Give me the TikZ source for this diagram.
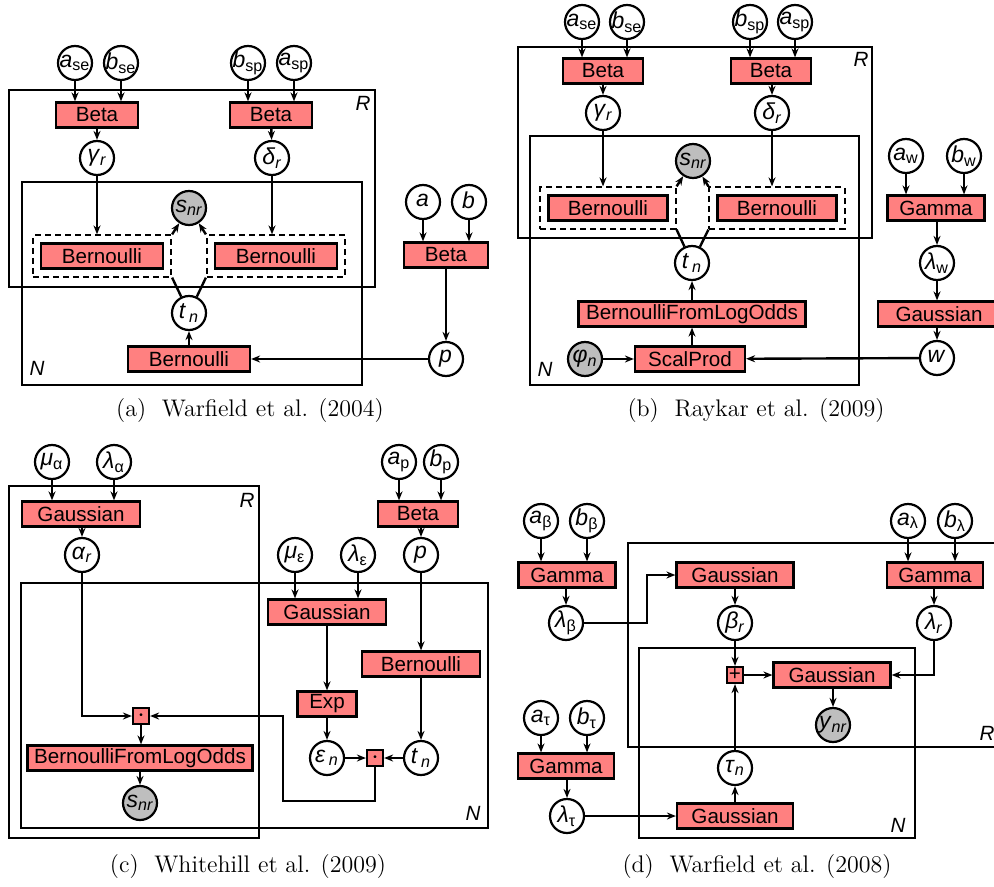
\documentclass[tikz,border=0pt]{standalone}
\usepackage{fontspec}
\usetikzlibrary{arrows.meta,fit}
\newfontfamily\sans{Liberation Sans}
\definecolor{facred}{HTML}{FF8080}
\definecolor{obsgrey}{HTML}{BEBEBE}
% variable with an upright subscript, kept narrow so the circle stays small
\newcommand{\vr}[2]{\makebox[0pt][c]{\fontsize{11.5}{12}\selectfont\textit{#1}\textsubscript{#2}}}

\begin{document}
\begin{tikzpicture}[x=0.5pt, y=-0.5pt,
  every node/.style={font=\sans\fontsize{10.3}{12}\selectfont},
  var/.style={circle, draw, line width=1.1pt, minimum size=17pt, inner sep=0pt, fill=white},
  obs/.style={var, fill=obsgrey},
  fac/.style={draw, line width=1.1pt, fill=facred, minimum height=12.5pt, inner sep=0pt},
  prod/.style={fac, minimum width=8pt, minimum height=8pt},
  gate/.style={draw, dash pattern=on 3pt off 2pt, line width=1pt, inner sep=3.5pt},
  plate/.style={line width=0.8pt},
  arr/.style={-{Stealth[length=4.5pt,width=3.5pt]}, line width=1.2pt},
  link/.style={line width=1.2pt},
  caption/.style={font=\fontsize{12}{14}\selectfont}]
\useasboundingbox (0,0) rectangle (994,887);

% ---------------- (a) ----------------
\draw[plate] (9,90) rectangle (375,287);
\draw[plate] (22,182) rectangle (362,385);
\node (a-R) at (363,103) {\textit{R}};
\node (a-N) at (37,368) {\textit{N}};

\node[var] (a-ase) at (75,63) {\vr{a}{se}};
\node[var] (a-bse) at (121,63) {\vr{b}{se}};
\node[var] (a-bsp) at (248,63) {\vr{b}{sp}};
\node[var] (a-asp) at (294,63) {\vr{a}{sp}};
\node[fac, minimum width=41pt] (a-beta1) at (97,115) {Beta};
\node[fac, minimum width=41pt] (a-beta2) at (271,115) {Beta};
\node[var] (a-gam) at (97,158) {\vr{γ}{\itshape r}};
\node[var] (a-del) at (272,158) {\vr{δ}{\itshape r}};
\node[obs] (a-snr) at (189,208) {\vr{s}{\itshape nr}};
\node[fac, minimum width=61pt] (a-bern1) at (102,256) {Bernoulli};
\node[fac, minimum width=61pt] (a-bern2) at (276,256) {Bernoulli};
\node[gate, fit=(a-bern1)] (a-gate1) {};
\node[gate, fit=(a-bern2)] (a-gate2) {};
\node[var] (a-tn) at (189,313) {\vr{t\,}{\itshape n}};
\node[fac, minimum width=61pt] (a-bern3) at (189,359) {Bernoulli};
\node[var] (a-a) at (423,202) {\vr{a}{}};
\node[var] (a-b) at (469,202) {\vr{b}{}};
\node[fac, minimum width=42pt] (a-beta3) at (446,255) {Beta};
\node[var] (a-p) at (446,359) {\vr{p}{}};

\draw[arr] (a-ase) -- (a-beta1.north -| a-ase);
\draw[arr] (a-bse) -- (a-beta1.north -| a-bse);
\draw[arr] (a-bsp) -- (a-beta2.north -| a-bsp);
\draw[arr] (a-asp) -- (a-beta2.north -| a-asp);
\draw[arr] (a-beta1) -- (a-gam);
\draw[arr] (a-beta2) -- (a-del);
\draw[arr] (a-gam) -- (a-gate1.north -| a-gam);
\draw[arr] (a-del) -- (a-gate2.north -| a-del);
\draw[arr] (a-gate1.north east) -- (a-snr);
\draw[arr] (a-gate2.north west) -- (a-snr);
\draw[link] (a-tn) -- (a-gate1.south east);
\draw[link] (a-tn) -- (a-gate2.south west);
\draw[arr] (a-bern3) -- (a-tn);
\draw[arr] (a-a) -- (a-beta3.north -| a-a);
\draw[arr] (a-b) -- (a-beta3.north -| a-b);
\draw[arr] (a-beta3) -- (a-p);
\draw[arr] (a-p) -- (a-bern3);

\node[caption] (cap-a) at (250,411) {(a)~~Warfield et al. (2004)};

% ---------------- (b) ----------------
\draw[plate] (518,47) rectangle (872,238);
\draw[plate] (530,136) rectangle (859,385);
\node (b-R) at (861,59) {\textit{R}};
\node (b-N) at (545,369) {\textit{N}};

\node[var] (b-ase) at (582,22) {\vr{a}{se}};
\node[var] (b-bse) at (627,22) {\vr{b}{se}};
\node[var] (b-bsp) at (750,22) {\vr{b}{sp}};
\node[var] (b-asp) at (795,22) {\vr{a}{sp}};
\node[fac, minimum width=40pt] (b-beta1) at (603,71) {Beta};
\node[fac, minimum width=40pt] (b-beta2) at (771,71) {Beta};
\node[var] (b-gam) at (603,113) {\vr{γ}{\itshape r}};
\node[var] (b-del) at (772,113) {\vr{δ}{\itshape r}};
\node[obs] (b-snr) at (693,161) {\vr{s}{\itshape nr}};
\node[fac, minimum width=59.5pt] (b-bern1) at (608,208) {Bernoulli};
\node[fac, minimum width=59.5pt] (b-bern2) at (777,208) {Bernoulli};
\node[gate, fit=(b-bern1)] (b-gate1) {};
\node[gate, fit=(b-bern2)] (b-gate2) {};
\node[var] (b-tn) at (692,263) {\vr{t\,}{\itshape n}};
\node[fac, minimum width=113.5pt] (b-bflo) at (692,314) {BernoulliFromLogOdds};
\node[fac, minimum width=55pt] (b-scal) at (690,359) {ScalProd};
\node[obs] (b-phi) at (585,359) {\vr{φ}{\itshape n}};
\node[var] (b-aw) at (906,156) {\vr{a}{w}};
\node[var] (b-bw) at (964,156) {\vr{b}{w}};
\node[fac, minimum width=48.5pt] (b-gamma) at (936,208) {Gamma};
\node[var] (b-lw) at (937,263) {\vr{λ}{w}};
\node[fac, minimum width=61pt] (b-gauss) at (939,314) {Gaussian};
\node[var] (b-w) at (937,358) {\vr{w}{}};

\draw[arr] (b-ase) -- (b-beta1.north -| b-ase);
\draw[arr] (b-bse) -- (b-beta1.north -| b-bse);
\draw[arr] (b-bsp) -- (b-beta2.north -| b-bsp);
\draw[arr] (b-asp) -- (b-beta2.north -| b-asp);
\draw[arr] (b-beta1) -- (b-gam);
\draw[arr] (b-beta2.south -| b-del) -- (b-del);
\draw[arr] (b-gam) -- (b-gate1.north -| b-gam);
\draw[arr] (b-del) -- (b-gate2.north -| b-del);
\draw[arr] (b-gate1.north east) -- (b-snr);
\draw[arr] (b-gate2.north west) -- (b-snr);
\draw[link] (b-tn) -- (b-gate1.south east);
\draw[link] (b-tn) -- (b-gate2.south west);
\draw[arr] (b-bflo) -- (b-tn);
\draw[arr] (b-scal.north -| b-bflo) -- (b-bflo);
\draw[arr] (b-phi) -- (b-scal);
\draw[arr] (b-w) -- (b-scal);
\draw[arr] (b-aw) -- (b-gamma.north -| b-aw);
\draw[arr] (b-bw) -- (b-gamma.north -| b-bw);
\draw[arr] (b-gamma.south -| b-lw) -- (b-lw);
\draw[arr] (b-lw) -- (b-gauss.north -| b-lw);
\draw[arr] (b-gauss.south -| b-w) -- (b-w);

\node[caption] (cap-b) at (756,411) {(b)~~Raykar et al. (2009)};

% ---------------- (c) ----------------
\draw[plate] (9,486) rectangle (259,838);
\draw[plate] (21,583) rectangle (488,828);
\node (c-R) at (247,500) {\textit{R}};
\node (c-N) at (473,813) {\textit{N}};

\node[var] (c-mua) at (52,462) {\vr{μ}{α}};
\node[var] (c-lama) at (114,462) {\vr{λ}{α}};
\node[fac, minimum width=59pt] (c-gauss1) at (81,514) {Gaussian};
\node[var] (c-alpha) at (82,555) {\vr{α}{\itshape r}};
\node[var] (c-ap) at (399,462) {\vr{a}{p}};
\node[var] (c-bp) at (441,462) {\vr{b}{p}};
\node[fac, minimum width=40pt] (c-beta) at (418,514) {Beta};
\node[var] (c-p) at (421,555) {\vr{p}{}};
\node[var] (c-mue) at (295,555) {\vr{μ}{ε}};
\node[var] (c-lame) at (358,555) {\vr{λ}{ε}};
\node[fac, minimum width=59pt] (c-gauss2) at (327,612) {Gaussian};
\node[fac, minimum width=59pt] (c-bern) at (421,664) {Bernoulli};
\node[fac, minimum width=29.5pt] (c-exp) at (327,704) {Exp};
\node[var] (c-eps) at (327,758) {\vr{ε\,}{\itshape n}};
\node[var] (c-tn) at (421,758) {\vr{t\,}{\itshape n}};
\node[prod] (c-prod2) at (375,758) {\fontsize{5}{5}\selectfont•};
\node[prod] (c-prod1) at (141,716) {\fontsize{5}{5}\selectfont•};
\node[fac, minimum width=112.5pt] (c-bflo) at (140,758) {BernoulliFromLogOdds};
\node[obs] (c-snr) at (140,803) {\vr{s}{\itshape nr}};
\coordinate (c-bend) at (283,801);

\draw[arr] (c-mua) -- (c-gauss1.north -| c-mua);
\draw[arr] (c-lama) -- (c-gauss1.north -| c-lama);
\draw[arr] (c-gauss1.south -| c-alpha) -- (c-alpha);
\draw[arr] (c-alpha) |- (c-prod1);
\draw[arr] (c-ap) -- (c-beta.north -| c-ap);
\draw[arr] (c-bp) -- (c-beta.north -| c-bp);
\draw[arr] (c-beta.south -| c-p) -- (c-p);
\draw[arr] (c-p) -- (c-bern);
\draw[arr] (c-bern) -- (c-tn);
\draw[arr] (c-mue) -- (c-gauss2.north -| c-mue);
\draw[arr] (c-lame) -- (c-gauss2.north -| c-lame);
\draw[arr] (c-gauss2) -- (c-exp);
\draw[arr] (c-exp) -- (c-eps);
\draw[arr] (c-eps) -- (c-prod2);
\draw[arr] (c-tn) -- (c-prod2);
\draw[arr] (c-prod2) |- (c-bend) |- (c-prod1);
\draw[arr] (c-prod1) -- (c-bflo.north -| c-prod1);
\draw[arr] (c-bflo) -- (c-snr);

\node[caption] (cap-c) at (248,867) {(c)~~Whitehill et al. (2009)};

% ---------------- (d) ----------------
\draw[plate] (628,543) rectangle (1010,747);
\draw[plate] (639,648) rectangle (915,838);
\node (d-R) at (987,733) {\textit{R}};
\node (d-N) at (898,825) {\textit{N}};

\node[var] (d-ab) at (541,521) {\vr{a}{β}};
\node[var] (d-bb) at (587,521) {\vr{b}{β}};
\node[fac, minimum width=48.5pt] (d-gamma1) at (567,575) {Gamma};
\node[var] (d-lb) at (566,623) {\vr{λ}{β}};
\node[fac, minimum width=58.5pt] (d-gauss1) at (735,575) {Gaussian};
\node[var] (d-beta) at (735,623) {\vr{β}{\itshape r}};
\node[var] (d-al) at (908,521) {\vr{a}{λ}};
\node[var] (d-bl) at (955,521) {\vr{b}{λ}};
\node[fac, minimum width=48pt] (d-gamma2) at (935,575) {Gamma};
\node[var] (d-lr) at (934,623) {\vr{λ}{\itshape r}};
\node[prod] (d-plus) at (735,675) {+};
\node[fac, minimum width=58.5pt] (d-gauss2) at (832,675) {Gaussian};
\node[obs] (d-ynr) at (833,725) {\vr{y}{\itshape nr}};
\node[var] (d-tau) at (735,768) {\vr{τ}{\itshape n}};
\node[fac, minimum width=58pt] (d-gauss3) at (735,816) {Gaussian};
\node[var] (d-at) at (541,718) {\vr{a}{τ}};
\node[var] (d-bt) at (587,718) {\vr{b}{τ}};
\node[fac, minimum width=48pt] (d-gamma3) at (566,766) {Gamma};
\node[var] (d-lt) at (567,816) {\vr{λ}{τ}};
\coordinate (d-bend) at (647,623);

\draw[arr] (d-ab) -- (d-gamma1.north -| d-ab);
\draw[arr] (d-bb) -- (d-gamma1.north -| d-bb);
\draw[arr] (d-gamma1.south -| d-lb) -- (d-lb);
\draw[arr] (d-lb) -- (d-bend) |- (d-gauss1);
\draw[arr] (d-gauss1) -- (d-beta);
\draw[arr] (d-beta) -- (d-plus);
\draw[arr] (d-plus) -- (d-gauss2);
\draw[arr] (d-al) -- (d-gamma2.north -| d-al);
\draw[arr] (d-bl) -- (d-gamma2.north -| d-bl);
\draw[arr] (d-gamma2.south -| d-lr) -- (d-lr);
\draw[arr] (d-lr) |- (d-gauss2);
\draw[arr] (d-gauss2.south -| d-ynr) -- (d-ynr);
\draw[arr] (d-tau) -- (d-plus);
\draw[arr] (d-gauss3) -- (d-tau);
\draw[arr] (d-at) -- (d-gamma3.north -| d-at);
\draw[arr] (d-bt) -- (d-gamma3.north -| d-bt);
\draw[arr] (d-gamma3.south -| d-lt) -- (d-lt);
\draw[arr] (d-lt) -- (d-gauss3);

\node[caption] (cap-d) at (757,867) {(d)~~Warfield et al. (2008)};
\end{tikzpicture}
\end{document}
